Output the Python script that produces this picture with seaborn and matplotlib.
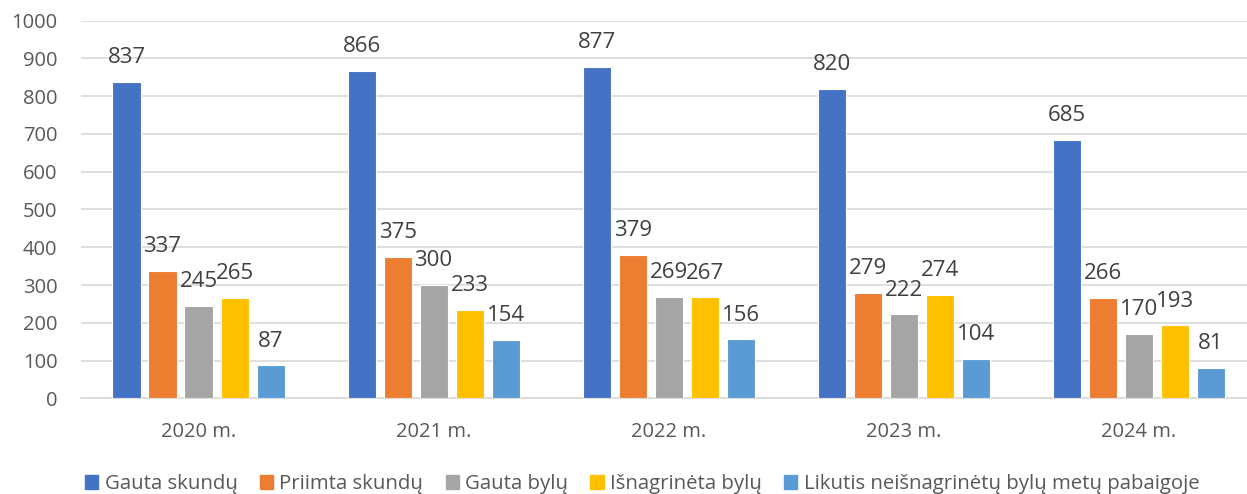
import pandas as pd
import matplotlib.pyplot as plt
import seaborn as sns

# =====================================================
# Data
# =====================================================
years = ["2020 m.", "2021 m.", "2022 m.", "2023 m.", "2024 m."]
series = ["Gauta skundų", "Priimta skundų", "Gauta bylų", "Išnagrinėta bylų",
          "Likutis neišnagrinėtų bylų metų pabaigoje"]
gauta_skundu = [837, 866, 877, 820, 685]
priimta_skundu = [337, 375, 379, 279, 266]
gauta_bylu = [245, 300, 269, 222, 170]
isnagrineta_bylu = [265, 233, 267, 274, 193]
likutis = [87, 154, 156, 104, 81]
colors = ["#4472C4", "#ED7D31", "#A5A5A5", "#FFC000", "#5B9BD5"]

values = [gauta_skundu, priimta_skundu, gauta_bylu, isnagrineta_bylu, likutis]
df = pd.DataFrame([
    {"Metai": y, "Serija": s, "Reikšmė": v}
    for s, vals in zip(series, values)
    for y, v in zip(years, vals)
])

# =====================================================
# Plot
# =====================================================
sns.set_style("white")
plt.rcParams['font.family'] = ['Open Sans', 'DejaVu Sans']
text_color = "#595959"
grid_color = "#D9D9D9"

fig = plt.figure(figsize=(12.47, 4.94), dpi=100)
ax = fig.add_axes([81 / 1247, 1 - 398.3 / 494, 1 - 81 / 1247, (398.3 - 20.7) / 494])

sns.barplot(data=df, x="Metai", y="Reikšmė", hue="Serija", order=years,
            hue_order=series, palette=colors, saturation=1, width=0.766, gap=0.22,
            edgecolor="white", linewidth=0.8, ax=ax, zorder=3)

for cont in ax.containers:
    ax.bar_label(cont, fmt="%d", padding=10, fontsize=16, color="#404040")

ax.set_ylim(0, 1000)
ax.set_yticks(range(0, 1001, 100))
ax.set_xlim(-0.5, 4.46)
ax.yaxis.grid(True, color=grid_color, linewidth=1.2, zorder=0)
ax.set_axisbelow(True)
for side in ["left", "right", "top"]:
    ax.spines[side].set_visible(False)
ax.spines["bottom"].set_color(grid_color)
ax.spines["bottom"].set_linewidth(1.2)
ax.tick_params(axis="both", length=0, labelsize=14.5, colors=text_color)
ax.tick_params(axis="x", pad=17)
ax.tick_params(axis="y", pad=17)
ax.set_xlabel("")
ax.set_ylabel("")

ax.legend_.remove()
handles = [plt.Rectangle((0, 0), 1, 1, color=c) for c in colors]
fig.legend(handles, series, loc="center", bbox_to_anchor=(0.515, 1 - 484 / 494),
           ncol=5, frameon=False, fontsize=14.7, labelcolor=text_color,
           handlelength=0.65, handleheight=0.65, handletextpad=0.3,
           columnspacing=1.1)

plt.savefig("out.png", dpi=100)
